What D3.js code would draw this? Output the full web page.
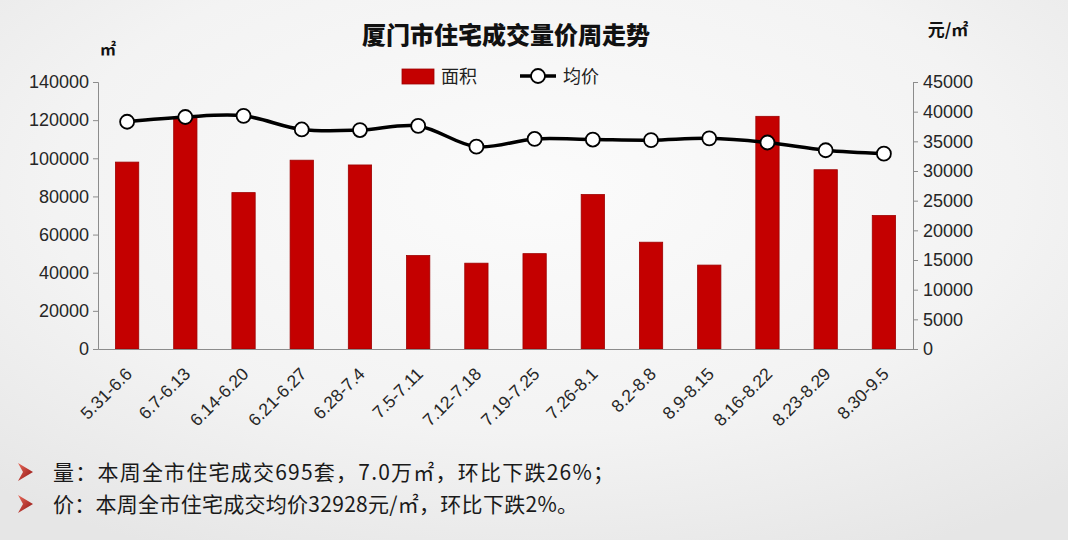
<!DOCTYPE html>
<html>
<head>
<meta charset="utf-8">
<script src="https://cdn.jsdelivr.net/npm/d3@7/dist/d3.min.js"></script>
<style>
  html, body { margin: 0; padding: 0; background: #f3f3f3; }
  svg { display: block; }
</style>
</head>
<body>
<div id="chart"></div>
<script>
// ---------- data ----------
const categories = ["5.31-6.6","6.7-6.13","6.14-6.20","6.21-6.27","6.28-7.4","7.5-7.11","7.12-7.18","7.19-7.25","7.26-8.1","8.2-8.8","8.9-8.15","8.16-8.22","8.23-8.29","8.30-9.5"];
const areaValues = [98000,121000,82000,99000,96500,49000,45000,50000,81000,56000,44000,122000,94000,70000];
const priceValues = [38300,39100,39300,37000,36900,37600,34100,35400,35300,35200,35500,34800,33500,32928];
const leftTicks = [0,20000,40000,60000,80000,100000,120000,140000];
const rightTicks = [0,5000,10000,15000,20000,25000,30000,35000,40000,45000];
const titleText = "厦门市住宅成交量价周走势";
const seriesNames = ["面积", "均价"];
const leftUnit = "㎡";
const rightUnit = "元/㎡";
const notes = [
  "量：本周全市住宅成交695套，7.0万㎡，环比下跌26%；",
  "价：本周全市住宅成交均价32928元/㎡，环比下跌2%。"
];

// ---------- layout ----------
const W = 1068, H = 540;
const plot = { left: 98, right: 913, top: 82, bottom: 349 };
const numFont = "'Liberation Sans', Arial, sans-serif";
const cjkFont = "'Noto Sans CJK SC', 'Noto Sans', sans-serif";

const svg = d3.select("#chart").append("svg").attr("width", W).attr("height", H);

// background
const defs = svg.append("defs");
const bg = defs.append("radialGradient").attr("id", "bg").attr("cx", "50%").attr("cy", "35%").attr("r", "75%");
bg.append("stop").attr("offset", "0%").attr("stop-color", "#fbfbfb");
bg.append("stop").attr("offset", "60%").attr("stop-color", "#f3f3f3");
bg.append("stop").attr("offset", "100%").attr("stop-color", "#e6e6e6");
svg.append("rect").attr("width", W).attr("height", H).attr("fill", "url(#bg)");

const ag = defs.append("linearGradient").attr("id", "arrowGrad").attr("x1", "0").attr("y1", "0").attr("x2", "1").attr("y2", "1");
ag.append("stop").attr("offset", "0%").attr("stop-color", "#e86a5a");
ag.append("stop").attr("offset", "100%").attr("stop-color", "#8e1010");

// scales
const x = d3.scaleBand().domain(categories).range([plot.left, plot.right]).paddingInner(0.6).paddingOuter(0.3);
const yL = d3.scaleLinear().domain([0, 140000]).range([plot.bottom, plot.top]);
const yR = d3.scaleLinear().domain([0, 45000]).range([plot.bottom, plot.top]);

// bars
svg.append("g").selectAll("rect").data(areaValues).join("rect")
  .attr("x", (d, i) => x(categories[i]))
  .attr("y", d => yL(d))
  .attr("width", x.bandwidth())
  .attr("height", d => yL(0) - yL(d))
  .attr("fill", "#c40000")
  .attr("stroke", "#9e0000")
  .attr("stroke-width", 0.8);

// axes
const axisColor = "#8c8c8c";
const leftAxis = svg.append("g").attr("transform", `translate(${plot.left},0)`)
  .call(d3.axisLeft(yL).tickValues(leftTicks).tickSize(5).tickPadding(4).tickFormat(d3.format("d")));
const rightAxis = svg.append("g").attr("transform", `translate(${plot.right},0)`)
  .call(d3.axisRight(yR).tickValues(rightTicks).tickSize(5).tickPadding(5).tickFormat(d3.format("d")));
[leftAxis, rightAxis].forEach(g => {
  g.select(".domain").attr("stroke", axisColor).attr("stroke-width", 1);
  g.selectAll(".tick line").attr("stroke", axisColor);
  g.selectAll(".tick text").attr("font-family", numFont).attr("font-size", 18).attr("fill", "#262626");
});

const bottomAxis = svg.append("g").attr("transform", `translate(0,${plot.bottom})`)
  .call(d3.axisBottom(x).tickSize(0).tickFormat(""));
bottomAxis.select(".domain").attr("stroke", axisColor).attr("stroke-width", 1.2);

// rotated category labels
svg.append("g").selectAll("text").data(categories).join("text")
  .attr("transform", d => `translate(${x(d) + x.bandwidth() / 2 + 6},${plot.bottom + 26}) rotate(-45)`)
  .attr("text-anchor", "end")
  .attr("font-family", numFont)
  .attr("font-size", 17.5)
  .attr("fill", "#262626")
  .text(d => d);

// price line
const cx = (d, i) => x(categories[i]) + x.bandwidth() / 2;
const line = d3.line().x(cx).y(d => yR(d)).curve(d3.curveCatmullRom.alpha(0.5));
svg.append("path").datum(priceValues)
  .attr("d", line)
  .attr("fill", "none")
  .attr("stroke", "#000")
  .attr("stroke-width", 3.5);
svg.append("g").selectAll("circle").data(priceValues).join("circle")
  .attr("cx", cx)
  .attr("cy", d => yR(d))
  .attr("r", 7)
  .attr("fill", "#fff")
  .attr("stroke", "#000")
  .attr("stroke-width", 1.8);

// title
svg.append("text")
  .attr("x", 506).attr("y", 44)
  .attr("text-anchor", "middle")
  .attr("font-family", cjkFont)
  .attr("font-weight", 900)
  .attr("font-size", 24)
  .attr("fill", "#111")
  .text(titleText);

// units
svg.append("text")
  .attr("x", 108).attr("y", 55)
  .attr("text-anchor", "middle")
  .attr("font-family", cjkFont)
  .attr("font-weight", 700)
  .attr("font-size", 16)
  .attr("fill", "#111")
  .text(leftUnit);
svg.append("text")
  .attr("x", 948).attr("y", 36)
  .attr("text-anchor", "middle")
  .attr("font-family", cjkFont)
  .attr("font-weight", 700)
  .attr("font-size", 17)
  .attr("fill", "#111")
  .text(rightUnit);

// legend
const lg = svg.append("g");
lg.append("rect").attr("x", 402).attr("y", 69).attr("width", 32).attr("height", 15)
  .attr("fill", "#c40000").attr("stroke", "#9e0000").attr("stroke-width", 0.8);
lg.append("text").attr("x", 441).attr("y", 83)
  .attr("font-family", cjkFont).attr("font-size", 18).attr("fill", "#222").text(seriesNames[0]);
lg.append("line").attr("x1", 520).attr("x2", 556).attr("y1", 76).attr("y2", 76)
  .attr("stroke", "#000").attr("stroke-width", 3.5);
lg.append("circle").attr("cx", 538).attr("cy", 76).attr("r", 7)
  .attr("fill", "#fff").attr("stroke", "#000").attr("stroke-width", 1.8);
lg.append("text").attr("x", 563).attr("y", 83)
  .attr("font-family", cjkFont).attr("font-size", 18).attr("fill", "#222").text(seriesNames[1]);

// notes
const noteLen = [561, 525];
const ng = svg.append("g");
notes.forEach((t, i) => {
  const yy = 480 + i * 32;
  const cy = yy - 8;
  ng.append("path")
    .attr("d", `M18,${cy - 9} L33,${cy} L18,${cy + 9} L23,${cy} Z`)
    .attr("fill", "url(#arrowGrad)");
  ng.append("text").attr("x", 53).attr("y", yy)
    .attr("font-family", cjkFont).attr("font-size", 21).attr("fill", "#1a1a1a")
    .attr("textLength", noteLen[i]).attr("lengthAdjust", "spacing")
    .text(t);
});
</script>
</body>
</html>
